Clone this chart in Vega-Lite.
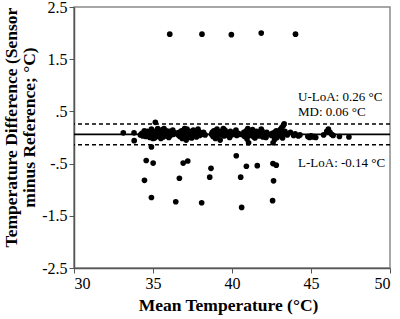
{
  "$schema": "https://vega.github.io/schema/vega-lite/v6.json",
  "width": 316,
  "height": 261,
  "autosize": {"type": "none"},
  "padding": {"left": 74, "top": 7, "right": 10, "bottom": 51},
  "background": "white",
  "config": {
    "view": {"stroke": "#8a8a8a", "strokeWidth": 1.5},
    "axis": {
      "grid": false,
      "domainColor": "#555555",
      "domainWidth": 1.5,
      "tickColor": "#555555",
      "tickSize": 5,
      "labelFont": "Liberation Serif",
      "labelFontSize": 16,
      "labelColor": "black",
      "titleFont": "Liberation Serif",
      "titleFontSize": 17.5,
      "titleFontWeight": "bold",
      "titleColor": "black"
    }
  },
  "datasets": {
    "pts": [
      {"mean": 36.06, "diff": 1.98}, {"mean": 38.1, "diff": 1.98}, {"mean": 39.96, "diff": 1.97}, {"mean": 41.85, "diff": 2.0}, {"mean": 44.02, "diff": 1.98},
      {"mean": 34.9, "diff": -0.18}, {"mean": 33.81, "diff": -0.06}, {"mean": 34.57, "diff": -0.44}, {"mean": 35.01, "diff": -0.49}, {"mean": 34.46, "diff": -0.82},
      {"mean": 34.9, "diff": -1.15}, {"mean": 36.44, "diff": -1.23}, {"mean": 36.91, "diff": -0.49}, {"mean": 37.2, "diff": -0.45}, {"mean": 36.67, "diff": -0.78},
      {"mean": 38.08, "diff": -1.25}, {"mean": 38.67, "diff": -0.59}, {"mean": 38.59, "diff": -0.76}, {"mean": 40.27, "diff": -0.35}, {"mean": 40.55, "diff": -0.76},
      {"mean": 40.61, "diff": -1.34}, {"mean": 40.91, "diff": -0.55}, {"mean": 41.6, "diff": -0.54}, {"mean": 42.59, "diff": -0.5}, {"mean": 42.8, "diff": -0.53},
      {"mean": 42.63, "diff": -0.83}, {"mean": 42.57, "diff": -1.21},
      {"mean": 33.12, "diff": 0.09}, {"mean": 33.8, "diff": 0.09},
      {"mean": 34.2, "diff": 0.05}, {"mean": 34.3, "diff": 0.08}, {"mean": 34.35, "diff": 0.03}, {"mean": 34.4, "diff": 0.06}, {"mean": 34.5, "diff": 0.1},
      {"mean": 34.55, "diff": 0.02}, {"mean": 34.6, "diff": 0.07}, {"mean": 34.65, "diff": 0.12}, {"mean": 34.7, "diff": 0.04}, {"mean": 34.75, "diff": 0.09},
      {"mean": 34.8, "diff": 0.0}, {"mean": 34.85, "diff": 0.06}, {"mean": 34.9, "diff": 0.13}, {"mean": 34.95, "diff": 0.03}, {"mean": 35.0, "diff": 0.08},
      {"mean": 35.05, "diff": 0.11}, {"mean": 35.1, "diff": -0.01}, {"mean": 35.1, "diff": 0.05}, {"mean": 35.15, "diff": 0.29}, {"mean": 35.2, "diff": 0.09},
      {"mean": 35.25, "diff": 0.14}, {"mean": 35.3, "diff": 0.02}, {"mean": 35.35, "diff": 0.07}, {"mean": 35.4, "diff": 0.12}, {"mean": 35.45, "diff": 0.04},
      {"mean": 35.5, "diff": 0.1}, {"mean": 35.55, "diff": 0.06}, {"mean": 35.6, "diff": 0.15}, {"mean": 35.65, "diff": 0.01}, {"mean": 35.7, "diff": 0.08},
      {"mean": 35.75, "diff": 0.11}, {"mean": 35.8, "diff": 0.05}, {"mean": 35.85, "diff": 0.13}, {"mean": 35.9, "diff": 0.03}, {"mean": 35.95, "diff": 0.09},
      {"mean": 36.0, "diff": 0.06}, {"mean": 36.05, "diff": 0.12}, {"mean": 36.1, "diff": 0.04}, {"mean": 36.15, "diff": 0.08}, {"mean": 36.2, "diff": 0.1},
      {"mean": 36.3, "diff": 0.06}, {"mean": 36.4, "diff": 0.09},
      {"mean": 34.45, "diff": 0.13}, {"mean": 34.9, "diff": 0.16}, {"mean": 35.3, "diff": 0.17}, {"mean": 35.7, "diff": 0.17}, {"mean": 35.0, "diff": -0.02},
      {"mean": 35.5, "diff": -0.02}, {"mean": 36.0, "diff": 0.0}, {"mean": 36.25, "diff": 0.14},
      {"mean": 36.6, "diff": 0.05}, {"mean": 36.65, "diff": 0.1}, {"mean": 36.7, "diff": 0.02}, {"mean": 36.75, "diff": 0.08}, {"mean": 36.8, "diff": 0.13},
      {"mean": 36.85, "diff": -0.02}, {"mean": 36.9, "diff": 0.06}, {"mean": 36.95, "diff": 0.11}, {"mean": 37.0, "diff": 0.03}, {"mean": 37.05, "diff": 0.09},
      {"mean": 37.1, "diff": -0.05}, {"mean": 37.15, "diff": 0.16}, {"mean": 37.2, "diff": 0.07}, {"mean": 37.3, "diff": 0.12}, {"mean": 37.35, "diff": 0.02},
      {"mean": 37.4, "diff": 0.09}, {"mean": 37.5, "diff": 0.05}, {"mean": 37.55, "diff": 0.14}, {"mean": 37.6, "diff": 0.07}, {"mean": 37.7, "diff": 0.1},
      {"mean": 37.75, "diff": 0.01}, {"mean": 37.8, "diff": 0.08}, {"mean": 37.9, "diff": 0.12}, {"mean": 37.95, "diff": 0.04}, {"mean": 38.0, "diff": 0.09},
      {"mean": 38.1, "diff": 0.06}, {"mean": 38.2, "diff": 0.1}, {"mean": 38.3, "diff": 0.05},
      {"mean": 37.0, "diff": 0.17}, {"mean": 37.45, "diff": -0.01}, {"mean": 37.85, "diff": 0.16}, {"mean": 37.25, "diff": 0.0},
      {"mean": 38.7, "diff": 0.06}, {"mean": 38.75, "diff": 0.1}, {"mean": 38.8, "diff": 0.02}, {"mean": 38.85, "diff": 0.13}, {"mean": 38.9, "diff": 0.07},
      {"mean": 38.95, "diff": -0.02}, {"mean": 39.0, "diff": 0.09}, {"mean": 39.05, "diff": 0.16}, {"mean": 39.1, "diff": 0.04}, {"mean": 39.15, "diff": 0.11},
      {"mean": 39.2, "diff": 0.07}, {"mean": 39.25, "diff": -0.05}, {"mean": 39.3, "diff": 0.12}, {"mean": 39.35, "diff": 0.05}, {"mean": 39.4, "diff": 0.09},
      {"mean": 39.5, "diff": 0.03}, {"mean": 39.55, "diff": 0.14}, {"mean": 39.6, "diff": 0.07}, {"mean": 39.7, "diff": 0.1}, {"mean": 39.75, "diff": 0.04},
      {"mean": 39.8, "diff": 0.08}, {"mean": 39.9, "diff": 0.12}, {"mean": 39.95, "diff": 0.05}, {"mean": 40.0, "diff": 0.09}, {"mean": 40.1, "diff": 0.06},
      {"mean": 40.2, "diff": 0.1}, {"mean": 40.3, "diff": 0.04}, {"mean": 40.4, "diff": 0.08}, {"mean": 40.5, "diff": 0.06},
      {"mean": 39.0, "diff": 0.0}, {"mean": 39.45, "diff": 0.17}, {"mean": 39.85, "diff": 0.0}, {"mean": 40.25, "diff": 0.14},
      {"mean": 40.7, "diff": 0.05}, {"mean": 40.75, "diff": 0.1}, {"mean": 40.8, "diff": 0.02}, {"mean": 40.85, "diff": 0.08}, {"mean": 40.9, "diff": 0.13},
      {"mean": 40.95, "diff": -0.03}, {"mean": 41.0, "diff": 0.06}, {"mean": 41.05, "diff": -0.1}, {"mean": 41.1, "diff": 0.11}, {"mean": 41.15, "diff": 0.04},
      {"mean": 41.2, "diff": 0.08}, {"mean": 41.3, "diff": 0.15}, {"mean": 41.35, "diff": 0.02}, {"mean": 41.4, "diff": 0.09}, {"mean": 41.5, "diff": 0.05},
      {"mean": 41.55, "diff": 0.12}, {"mean": 41.6, "diff": 0.07}, {"mean": 41.7, "diff": 0.03}, {"mean": 41.75, "diff": 0.1}, {"mean": 41.8, "diff": 0.06},
      {"mean": 41.9, "diff": 0.13}, {"mean": 41.95, "diff": 0.01}, {"mean": 42.0, "diff": 0.08}, {"mean": 42.1, "diff": 0.05}, {"mean": 42.2, "diff": 0.1},
      {"mean": 42.3, "diff": 0.06},
      {"mean": 41.0, "diff": 0.17}, {"mean": 41.45, "diff": -0.01}, {"mean": 41.85, "diff": 0.16}, {"mean": 42.15, "diff": 0.0},
      {"mean": 42.5, "diff": 0.04}, {"mean": 42.55, "diff": 0.08}, {"mean": 42.6, "diff": -0.1}, {"mean": 42.65, "diff": 0.02}, {"mean": 42.7, "diff": 0.1},
      {"mean": 42.75, "diff": 0.05}, {"mean": 42.8, "diff": 0.13}, {"mean": 42.85, "diff": 0.0}, {"mean": 42.9, "diff": 0.07}, {"mean": 42.95, "diff": 0.11},
      {"mean": 43.0, "diff": 0.04}, {"mean": 43.05, "diff": 0.15}, {"mean": 43.1, "diff": 0.09}, {"mean": 43.15, "diff": 0.19}, {"mean": 43.2, "diff": 0.06},
      {"mean": 43.25, "diff": 0.23}, {"mean": 43.3, "diff": 0.26}, {"mean": 43.35, "diff": 0.12}, {"mean": 43.4, "diff": 0.08}, {"mean": 43.5, "diff": 0.05},
      {"mean": 42.7, "diff": -0.04}, {"mean": 43.2, "diff": -0.01},
      {"mean": 43.7, "diff": 0.1}, {"mean": 43.9, "diff": 0.04}, {"mean": 44.0, "diff": 0.07}, {"mean": 44.2, "diff": 0.03}, {"mean": 44.3, "diff": 0.05},
      {"mean": 44.8, "diff": 0.02}, {"mean": 44.9, "diff": 0.0}, {"mean": 45.0, "diff": 0.03}, {"mean": 45.1, "diff": 0.01}, {"mean": 45.2, "diff": 0.02},
      {"mean": 45.3, "diff": 0.0}, {"mean": 45.8, "diff": 0.05}, {"mean": 46.0, "diff": 0.12}, {"mean": 46.1, "diff": 0.16}, {"mean": 46.2, "diff": 0.1},
      {"mean": 46.3, "diff": 0.06}, {"mean": 46.4, "diff": 0.04}, {"mean": 46.8, "diff": 0.02}, {"mean": 47.4, "diff": 0.01}
    ],
    "lines": [
      {"name": "U-LoA", "value": 0.26, "kind": "limit", "label": "U-LoA: 0.26 °C", "labelY": 0.78},
      {"name": "MD", "value": 0.06, "kind": "mean", "label": "MD: 0.06 °C", "labelY": 0.49},
      {"name": "L-LoA", "value": -0.14, "kind": "limit", "label": "L-LoA: -0.14 °C", "labelY": -0.49}
    ]
  },
  "layer": [
    {
      "data": {"name": "lines"},
      "transform": [{"filter": "datum.kind == 'limit'"}],
      "mark": {"type": "rule", "color": "black", "strokeWidth": 1.6, "strokeDash": [4, 3]},
      "encoding": {"y": {"field": "value", "type": "quantitative"}}
    },
    {
      "data": {"name": "lines"},
      "transform": [{"filter": "datum.kind == 'mean'"}],
      "mark": {"type": "rule", "color": "black", "strokeWidth": 1.6},
      "encoding": {"y": {"field": "value", "type": "quantitative"}}
    },
    {
      "data": {"name": "pts"},
      "mark": {"type": "point", "filled": true, "shape": "circle", "size": 32, "color": "black", "opacity": 1},
      "encoding": {
        "x": {
          "field": "mean", "type": "quantitative",
          "scale": {"domain": [30, 50], "nice": false, "zero": false},
          "axis": {"values": [30, 35, 40, 45, 50], "labelFont": "Liberation Serif", "labelFontSize": 16, "title": "Mean Temperature (°C)", "titleX": 154, "titleY": 37, "titleBaseline": "middle"}
        },
        "y": {
          "field": "diff", "type": "quantitative",
          "scale": {"domain": [-2.5, 2.5], "nice": false, "zero": false},
          "axis": {
            "values": [-2.5, -1.5, -0.5, 0.5, 1.5, 2.5],
            "labelExpr": "datum.value == 0.5 ? '.5' : datum.value == -0.5 ? '-.5' : datum.value == 1.5 ? '1.5' : datum.value == -1.5 ? '-1.5' : datum.value == 2.5 ? '2.5' : '-2.5'",
            "labelFont": "Liberation Serif", "labelFontSize": 16,
            "labelPadding": 2,
            "title": ["Temperature Difference (Sensor", "minus Reference; °C)"],
            "titleX": -63, "titleY": 120, "titleAngle": -90, "titleAlign": "center", "titleBaseline": "middle", "titleLineHeight": 18
          }
        }
      }
    },
    {
      "data": {"name": "lines"},
      "mark": {"type": "text", "align": "left", "baseline": "middle", "font": "Liberation Serif", "fontSize": 13, "color": "black"},
      "encoding": {
        "x": {"datum": 44.18, "type": "quantitative"},
        "y": {"field": "labelY", "type": "quantitative"},
        "text": {"field": "label"}
      }
    }
  ]
}
